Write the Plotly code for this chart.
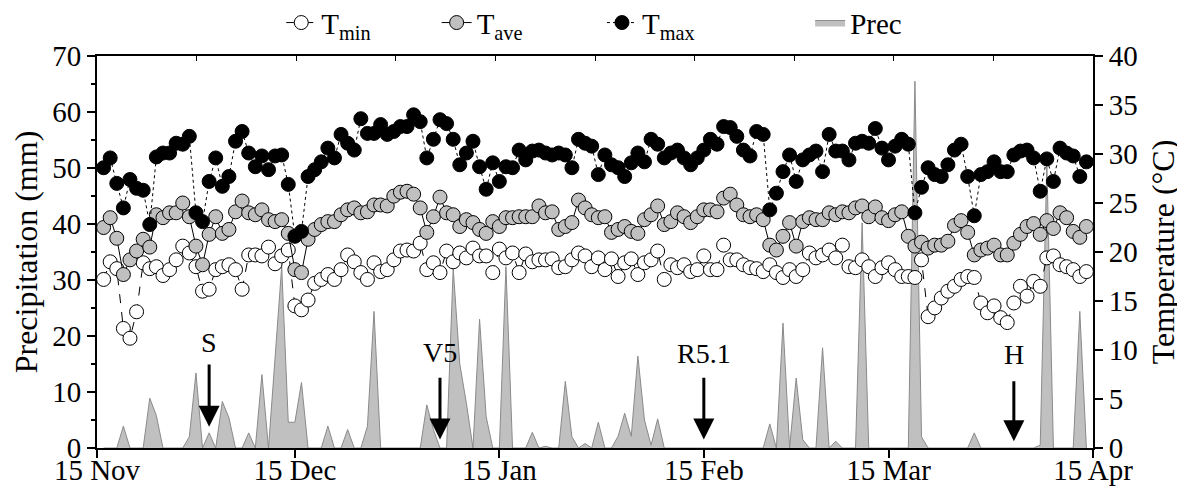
import pandas as pd
import plotly.graph_objects as go

# ---- data (daily, 16 Nov -> 14 Apr) ----
start_date = "2018-11-16"
n_days = 150
dates = pd.date_range(start_date, periods=n_days, freq="D")

t_min = [17.2, 19.0, 18.3, 12.2, 11.2, 13.9, 18.9, 18.3, 18.5, 17.6,
         18.2, 19.2, 20.6, 19.9, 18.5, 16.0, 16.2, 18.2, 18.5, 18.7,
         18.2, 16.2, 19.7, 19.7, 19.6, 20.5, 18.8, 19.6, 20.2, 14.5,
         14.1, 15.1, 16.8, 17.2, 17.7, 17.2, 18.2, 19.7, 19.0, 17.9,
         17.2, 18.9, 18.0, 18.2, 19.2, 20.1, 20.2, 20.1, 20.9, 18.2,
         18.9, 17.9, 20.1, 19.0, 19.9, 19.4, 20.4, 19.6, 19.6, 17.9,
         20.3, 19.4, 19.9, 17.9, 19.8, 19.0, 19.2, 19.2, 19.3, 18.4,
         18.5, 19.2, 19.9, 19.6, 18.5, 19.4, 18.2, 19.3, 17.5, 18.9,
         19.3, 17.7, 18.9, 19.2, 20.1, 17.2, 18.7, 18.4, 18.7, 18.0,
         18.2, 19.6, 18.2, 18.2, 20.7, 19.2, 19.2, 18.7, 18.4, 18.3,
         18.0, 18.7, 17.9, 17.4, 18.2, 17.5, 18.2, 19.9, 19.4, 19.7,
         20.2, 19.4, 20.7, 18.5, 18.4, 19.2, 18.5, 17.5, 18.4, 18.9,
         18.2, 17.5, 17.5, 17.4, 19.2, 13.4, 14.3, 15.3, 16.0, 16.5,
         17.2, 17.5, 17.4, 14.8, 13.8, 14.5, 13.3, 12.8, 14.8, 16.5,
         15.5, 17.0, 16.5, 19.4, 19.6, 18.7, 18.5, 18.2, 17.5, 18.0]

t_ave = [22.5, 23.5, 21.4, 17.7, 19.2, 20.1, 21.3, 20.5, 23.8, 23.5,
         24.0, 24.0, 25.0, 23.6, 20.6, 18.7, 21.8, 23.6, 21.9, 22.3,
         24.1, 25.2, 24.0, 23.8, 24.3, 23.3, 23.1, 23.3, 21.9, 18.2,
         17.9, 21.3, 22.3, 22.8, 23.1, 23.1, 23.8, 24.3, 24.5, 24.0,
         24.1, 24.8, 24.8, 24.7, 25.7, 26.1, 26.2, 25.9, 24.5, 22.0,
         23.6, 25.6, 24.0, 23.8, 22.6, 23.3, 23.0, 22.3, 21.9, 23.1,
         22.6, 23.5, 23.5, 23.6, 23.6, 23.6, 24.7, 24.0, 24.1, 22.3,
         22.6, 23.0, 25.3, 24.5, 23.8, 23.5, 23.6, 22.0, 22.3, 22.6,
         22.1, 21.9, 23.3, 23.8, 24.7, 22.8, 23.1, 24.0, 23.6, 23.0,
         23.6, 24.3, 24.3, 24.1, 25.5, 25.9, 24.8, 23.8, 23.6, 23.8,
         23.3, 20.7, 20.2, 21.6, 23.0, 20.6, 23.1, 23.5, 23.3, 23.3,
         24.0, 23.8, 24.1, 24.0, 24.5, 24.7, 23.6, 24.6, 23.5, 23.2,
         23.8, 24.1, 21.6, 20.6, 21.0, 20.4, 20.7, 20.7, 21.1, 22.7,
         23.2, 22.0, 19.7, 20.2, 20.4, 20.7, 19.7, 19.7, 20.9, 21.8,
         22.6, 22.9, 21.8, 23.2, 22.4, 24.0, 23.5, 22.1, 21.5, 22.6]

t_max = [28.6, 29.6, 27.0, 24.5, 27.4, 26.5, 26.3, 22.8, 29.7, 30.1,
         30.1, 31.1, 31.0, 31.8, 24.0, 23.1, 27.2, 29.6, 26.7, 27.7,
         31.3, 32.3, 30.1, 28.7, 29.8, 28.4, 29.8, 29.9, 26.9, 21.6,
         22.1, 27.7, 28.4, 29.2, 30.6, 29.6, 32.0, 31.1, 30.4, 33.6,
         32.1, 32.1, 33.0, 32.0, 32.3, 32.8, 32.8, 34.0, 33.3, 29.6,
         31.5, 33.5, 33.1, 31.5, 28.9, 30.1, 31.3, 28.7, 26.4, 29.1,
         27.2, 28.7, 28.6, 30.4, 29.4, 30.3, 30.4, 30.1, 29.9, 30.1,
         29.9, 28.6, 31.5, 31.1, 30.8, 27.9, 29.9, 28.9, 28.6, 27.7,
         29.1, 30.1, 29.2, 31.5, 31.0, 29.6, 30.1, 30.4, 29.6, 28.9,
         29.6, 30.4, 31.5, 31.0, 32.8, 32.7, 31.8, 30.4, 29.8, 32.3,
         32.0, 24.3, 26.0, 28.2, 29.9, 27.2, 29.4, 29.9, 30.3, 28.2,
         32.0, 30.3, 30.3, 29.4, 31.1, 31.3, 31.1, 32.6, 30.6, 29.4,
         30.8, 31.5, 31.0, 24.0, 26.6, 28.6, 27.9, 27.7, 28.9, 30.4,
         31.0, 27.7, 23.7, 27.9, 28.2, 29.2, 28.2, 28.2, 29.9, 30.3,
         30.4, 29.6, 26.2, 29.5, 27.2, 30.6, 30.1, 29.8, 27.7, 29.2]

prec = [0, 0, 0, 3.9, 0, 0, 0, 8.9, 5.8, 0,
        0, 0, 0, 2.0, 13.4, 0, 2.7, 0, 8.3, 5.4,
        0, 0, 2.7, 0, 13.1, 0, 16.0, 32.4, 4.6, 4.6,
        11.7, 0, 0, 0, 3.9, 0, 0, 3.3, 0, 0,
        3.9, 24.4, 0, 0, 0, 0, 0, 0, 0, 7.7,
        3.3, 0, 0, 32.1, 15.0, 8.0, 0, 23.0, 5.6, 0,
        0, 32.4, 0, 0, 0, 2.8, 0, 0.3, 0, 0,
        11.9, 2.0, 0, 0.8, 0, 4.6, 0, 0, 2.1, 6.2,
        2.1, 16.4, 5.0, 0.5, 5.2, 0, 0, 0, 0, 0,
        0, 0, 0, 0, 0, 0, 0, 0, 0, 0,
        0, 4.3, 0, 22.3, 0, 12.5, 1.5, 0, 0, 17.9,
        0, 1.2, 0, 0, 0, 40.2, 0, 0, 0, 0,
        0, 0, 0, 65.5, 2.0, 0, 0, 0, 0, 0,
        0, 0, 2.7, 0, 0, 0, 0, 0, 0, 0,
        0, 0, 0.5, 51.0, 0, 0, 0, 0, 24.4, 0]

x_tick_dates = ["2018-11-15", "2018-12-15", "2019-01-15", "2019-02-15",
                "2019-03-15", "2019-04-15"]
x_tick_text = ["15 Nov", "15 Dec", "15 Jan", "15 Feb", "15 Mar", "15 Apr"]

stage_labels = ["S", "V5", "R5.1", "H"]
stage_dates = ["2018-12-02", "2019-01-06", "2019-02-15", "2019-04-03"]
stage_text_mm = [18.8, 17.0, 16.8, 16.7]
stage_tail_mm = [15.2, 12.8, 12.8, 12.2]
stage_tip_mm = [3.8, 1.5, 1.5, 1.2]

# ---- figure ----
FONT = "Liberation Serif"
FS = 29
fig = go.Figure()

fig.add_trace(go.Scatter(
    x=dates, y=t_min, name="T<sub>min</sub>", yaxis="y2", legend="legend",
    mode="lines+markers",
    line=dict(color="black", width=1, dash="dash"),
    marker=dict(symbol="circle", size=14, color="white",
                line=dict(color="black", width=1)),
))
fig.add_trace(go.Scatter(
    x=dates, y=t_ave, name="T<sub>ave</sub>", yaxis="y2", legend="legend2",
    mode="lines+markers",
    line=dict(color="black", width=1),
    marker=dict(symbol="circle", size=14, color="#c0c0c0",
                line=dict(color="black", width=1)),
))
fig.add_trace(go.Scatter(
    x=dates, y=t_max, name="T<sub>max</sub>", yaxis="y2", legend="legend3",
    mode="lines+markers",
    line=dict(color="black", width=1, dash="dot"),
    marker=dict(symbol="circle", size=14, color="black",
                line=dict(color="black", width=1)),
))
fig.add_trace(go.Scatter(
    x=dates, y=prec, name="Prec", yaxis="y", legend="legend4",
    mode="lines", fill="tozeroy", fillcolor="#c0c0c0",
    line=dict(color="#8a8a8a", width=1),
))
# top frame axis (ticks only)
fig.add_trace(go.Scatter(x=[None], y=[None], xaxis="x2", yaxis="y",
                         showlegend=False, hoverinfo="skip"))

for lab, d, ty, tail, tip in zip(stage_labels, stage_dates, stage_text_mm,
                                 stage_tail_mm, stage_tip_mm):
    fig.add_annotation(x=d, y=tip, ax=d, ay=tail, xref="x", yref="y",
                       axref="x", ayref="y", text="", showarrow=True,
                       arrowhead=2, arrowsize=1.4, arrowwidth=3,
                       arrowcolor="black", standoff=0)
    fig.add_annotation(x=d, y=ty, xref="x", yref="y", text=lab,
                       showarrow=False, font=dict(family=FONT, size=28,
                                                  color="black"))

# page has an 8px body margin: figure offset accounted for in margins
leg_common = dict(orientation="h", y=1.15, xanchor="left", yanchor="top",
                  font=dict(family=FONT, size=FS, color="black"),
                  bgcolor="rgba(0,0,0,0)")

fig.update_layout(
    width=1177, height=484,
    margin=dict(l=89, r=91.5, t=48, b=44, autoexpand=False),
    paper_bgcolor="white", plot_bgcolor="white",
    font=dict(family=FONT, size=FS, color="black"),
    showlegend=True,
    legend=dict(x=0.185, **leg_common),
    legend2=dict(x=0.341, **leg_common),
    legend3=dict(x=0.507, **leg_common),
    legend4=dict(x=0.716, **leg_common),
    xaxis=dict(
        type="date", range=["2018-11-15", "2019-04-15"],
        tickvals=x_tick_dates, ticktext=x_tick_text,
        ticks="outside", ticklen=8, tickwidth=1.5, tickcolor="black",
        showline=True, linecolor="black", linewidth=2,
        showgrid=False, zeroline=False, automargin=False,
        ticklabelstandoff=-13,
        tickfont=dict(family=FONT, size=FS),
    ),
    xaxis2=dict(
        overlaying="x", side="top", anchor="y", range=[0, 10], dtick=1,
        ticks="inside", ticklen=5, tickwidth=1, tickcolor="black",
        showticklabels=False, showline=True, linecolor="black",
        linewidth=2, showgrid=False, zeroline=False, automargin=False,
    ),
    yaxis=dict(
        range=[0, 70], dtick=10, ticks="outside", ticklen=8, tickwidth=1.5,
        tickcolor="black", showline=True, linecolor="black", linewidth=2,
        showgrid=False, zeroline=False, automargin=False,
        minor=dict(dtick=5, ticks="outside", ticklen=4, tickcolor="black"),
        title=dict(text="Precipitation (mm)",
                   font=dict(family=FONT, size=32)),
        tickfont=dict(family=FONT, size=FS),
    ),
    yaxis2=dict(
        range=[0, 40], dtick=5, overlaying="y", side="right",
        ticks="outside", ticklen=8, tickwidth=1.5, tickcolor="black",
        showline=True, linecolor="black", linewidth=2,
        showgrid=False, zeroline=False, automargin=False,
        title=dict(text="Temperature (°C)",
                   font=dict(family=FONT, size=32)),
        tickfont=dict(family=FONT, size=FS),
    ),
)

fig.write_html("out.html")
